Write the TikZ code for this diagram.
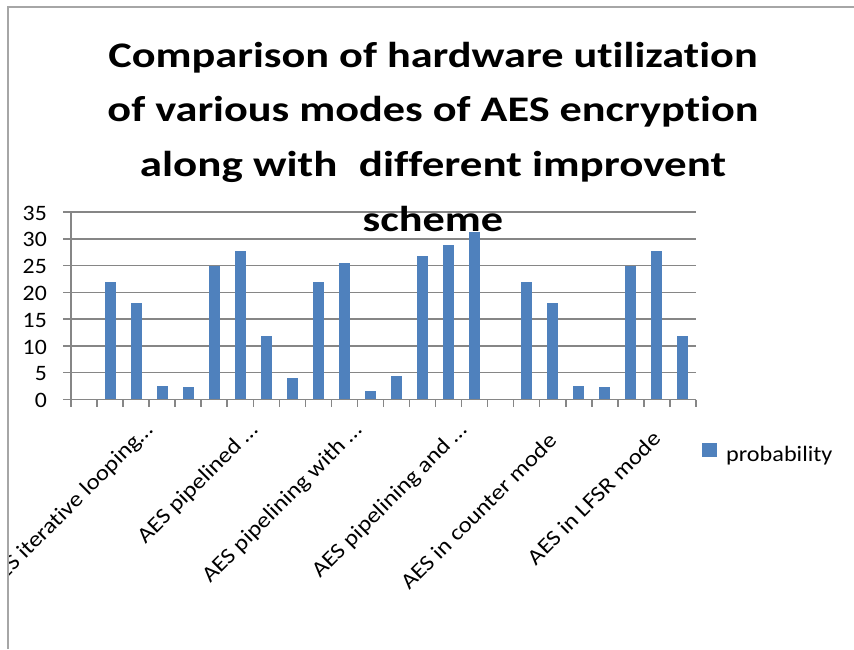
\documentclass[tikz,border=0pt]{standalone}
\usepackage{fontspec}
\setmainfont{Carlito}[Ligatures=NoCommon]
\usepackage{graphicx}
\definecolor{barblue}{HTML}{4F81BD}
\definecolor{gridgray}{HTML}{868686}
\definecolor{framegray}{HTML}{A6A6A6}
\newcommand{\hstretch}[2]{\scalebox{#1}[1]{#2}}
\begin{document}
\begin{tikzpicture}[x=1pt,y=-1pt,
  gridline/.style={draw=gridgray,line width=1.5pt},
  axisline/.style={draw=gridgray,line width=1.5pt},
  barbox/.style={fill=barblue},
  ticklabel/.style={font=\fontsize{22}{26}\selectfont,anchor=east,inner sep=0pt},
  catlabel/.style={font=\fontsize{22}{26}\selectfont,anchor=base east,rotate=45,inner sep=0pt},
  titleline/.style={font=\fontsize{36}{40}\selectfont\bfseries,anchor=base,inner sep=0pt},
  legendtext/.style={font=\fontsize{22}{26}\selectfont,anchor=base west,inner sep=0pt}]
\useasboundingbox (0,0) rectangle (854,649);
\fill[white] (0,0) rectangle (854,649);
% frame
\draw[framegray,line width=2pt] (8,649) -- (8,7) -- (854,7);
% gridlines and value labels
\foreach \v in {5,10,...,35} {
  \draw[gridline] (63,{399.5-\v*5.357}) -- (696,{399.5-\v*5.357});
}
\foreach \v in {0,5,...,35} {
  \node[ticklabel] (y\v) at (47,{400.5-\v*5.357}) {\hstretch{1.08}{\v}};
}
% bars
\foreach \i/\val in {1/22,2/18,3/2.6,4/2.3,5/25,6/27.8,7/11.8,8/4,
                     9/22,10/25.4,11/1.5,12/4.4,13/26.8,14/28.9,15/31.3,
                     17/22,18/18,19/2.6,20/2.3,21/25,22/27.8,23/11.8} {
  \fill[barbox] ({71+26.04*(\i+0.5)-5.5},399.5) rectangle ++(11,{-\val*5.357});
}
% axes
\draw[axisline] (63,399.5) -- (696,399.5);
\draw[axisline] (71,212) -- (71,399.5);
\foreach \k in {0,...,24} {
  \draw[axisline] ({71+26.04*\k},399.5) -- ({71+26.04*\k},406.5);
}
% category labels
\begin{scope}
\clip (9,0) rectangle (854,649);
\node[catlabel] (c1) at (154,431) {\hstretch{1.13}{AES iterative looping…}};
\node[catlabel] (c2) at (259,431) {\hstretch{1.13}{AES pipelined …}};
\node[catlabel] (c3) at (363,431) {\hstretch{1.13}{AES pipelining with …}};
\node[catlabel] (c4) at (468,431) {\hstretch{1.13}{AES pipelining and …}};
\node[catlabel] (c5) at (558,442) {\hstretch{1.13}{AES in counter mode}};
\node[catlabel] (c6) at (662,440) {\hstretch{1.13}{AES in LFSR mode}};
\end{scope}
% legend
\fill[barbox] (702,443) rectangle (717,457);
\node[legendtext] (leg) at (726,461) {\hstretch{1.1}{probability}};
% title
\node[titleline] (t1) at (433,67) {\hstretch{1.23}{Comparison of hardware utilization}};
\node[titleline] (t2) at (433,121) {\hstretch{1.23}{of various modes of AES encryption}};
\node[titleline] (t3) at (433,176.5) {\hstretch{1.25}{along with\hspace{0.25em} different improvent}};
\node[titleline] (t4) at (433,231.5) {\hstretch{1.23}{scheme}};
\end{tikzpicture}
\end{document}
